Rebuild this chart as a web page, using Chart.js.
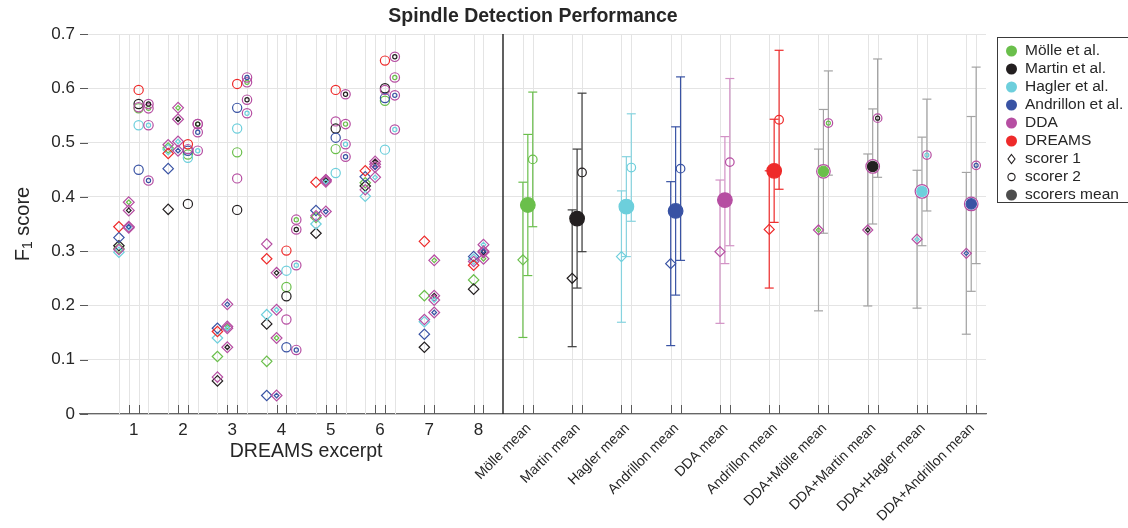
<!DOCTYPE html>
<html>
<head>
<meta charset="utf-8">
<script src="https://cdn.jsdelivr.net/npm/chart.js@4.4.0/dist/chart.umd.min.js"></script>
<style>
  html, body { margin: 0; padding: 0; background: #fff; }
</style>
</head>
<body>
<canvas id="chart" width="1128" height="528"></canvas>
<script>
// DREAMS excerpts 1..8 (scorer 2 only exists for excerpts 1..6)
const excerpts = ['1', '2', '3', '4', '5', '6', '7', '8'];

// scorer 1, single methods
const s1Molle     = [0.305, 0.490, 0.106, 0.097, 0.362, 0.426, 0.218, 0.247];
const s1Martin    = [0.310, 0.377, 0.061, 0.166, 0.333, 0.420, 0.123, 0.230];
const s1Hagler    = [0.298, 0.487, 0.140, 0.183, 0.350, 0.401, 0.170, 0.285];
const s1Andrillon = [0.325, 0.452, 0.158, 0.034, 0.375, 0.437, 0.147, 0.290];
const s1DDA       = [0.303, 0.496, 0.068, 0.313, 0.365, 0.413, 0.174, 0.281];
const s1Dreams    = [0.345, 0.480, 0.152, 0.286, 0.427, 0.448, 0.318, 0.274];

// scorer 2, single methods
const s2Molle     = [0.563, 0.478, 0.482, 0.234, 0.488, 0.577];
const s2Martin    = [0.571, 0.387, 0.376, 0.217, 0.526, 0.600];
const s2Hagler    = [0.532, 0.472, 0.526, 0.264, 0.444, 0.487];
const s2Andrillon = [0.450, 0.485, 0.564, 0.123, 0.509, 0.582];
const s2DDA       = [0.565, 0.488, 0.434, 0.174, 0.539, 0.597];
const s2Dreams    = [0.597, 0.497, 0.608, 0.301, 0.597, 0.651];

// scorer 1, DDA combined with a method
const s1DdaMolle     = [0.390, 0.564, 0.161, 0.140, 0.431, 0.460, 0.283, 0.286];
const s1DdaMartin    = [0.375, 0.543, 0.123, 0.260, 0.431, 0.465, 0.218, 0.298];
const s1DdaHagler    = [0.343, 0.502, 0.158, 0.192, 0.428, 0.436, 0.210, 0.312];
const s1DdaAndrillon = [0.345, 0.485, 0.202, 0.034, 0.373, 0.455, 0.187, 0.300];

// scorer 2, DDA combined with a method
const s2DdaMolle     = [0.563, 0.534, 0.611, 0.358, 0.534, 0.620];
const s2DdaMartin    = [0.571, 0.534, 0.579, 0.340, 0.589, 0.658];
const s2DdaHagler    = [0.532, 0.485, 0.554, 0.274, 0.497, 0.524];
const s2DdaAndrillon = [0.430, 0.519, 0.620, 0.118, 0.474, 0.587];

// means over excerpts (value and std)
const meanLabels = ['Mölle mean', 'Martin mean', 'Hagler mean', 'Andrillon mean', 'DDA mean',
  'Andrillon mean', 'DDA+Mölle mean', 'DDA+Martin mean', 'DDA+Hagler mean', 'DDA+Andrillon mean'];
const meanS1     = [0.284, 0.250, 0.290, 0.277, 0.299, 0.340, 0.339, 0.339, 0.322, 0.296];
const meanS1Sd   = [0.143, 0.126, 0.121, 0.151, 0.132, 0.108, 0.149, 0.140, 0.127, 0.149];
const meanBoth   = [0.385, 0.360, 0.382, 0.374, 0.394, 0.448, 0.447, 0.456, 0.410, 0.387];
const meanBothSd = [0.130, 0.128, 0.092, 0.155, 0.117, 0.095, 0.114, 0.106, 0.100, 0.161];
const meanS2     = [0.469, 0.445, 0.454, 0.452, 0.464, 0.542, 0.536, 0.545, 0.477, 0.458];
const meanS2Sd   = [0.124, 0.146, 0.099, 0.169, 0.154, 0.128, 0.096, 0.109, 0.103, 0.181];

const legendNames = ['Mölle et al.', 'Martin et al.', 'Hagler et al.', 'Andrillon et al.', 'DDA', 'DREAMS'];

const GREEN = '#6abf4b', BLACK = '#231f20', CYAN = '#6dcfdc', BLUE = '#3953a4', MAGENTA = '#b64ea2', RED = '#ee2a2a';
const FONT = '"Liberation Sans", Arial, Helvetica, sans-serif';
const TXT = '#262626';

const singles = [
  { s1: s1Molle, s2: s2Molle, color: GREEN },
  { s1: s1Martin, s2: s2Martin, color: BLACK },
  { s1: s1Hagler, s2: s2Hagler, color: CYAN },
  { s1: s1Andrillon, s2: s2Andrillon, color: BLUE },
  { s1: s1DDA, s2: s2DDA, color: MAGENTA },
  { s1: s1Dreams, s2: s2Dreams, color: RED }
];
const combos = [
  { s1: s1DdaMolle, s2: s2DdaMolle, color: GREEN },
  { s1: s1DdaMartin, s2: s2DdaMartin, color: BLACK },
  { s1: s1DdaHagler, s2: s2DdaHagler, color: CYAN },
  { s1: s1DdaAndrillon, s2: s2DdaAndrillon, color: BLUE }
];
const meanColors = [GREEN, BLACK, CYAN, BLUE, MAGENTA, RED, GREEN, BLACK, CYAN, BLUE];
const barColors = ['#6abf4b', '#3c3c3c', '#86d3df', '#3953a4', '#d291c5', '#ee2a2a',
  '#a3a3a3', '#a3a3a3', '#a3a3a3', '#a3a3a3'];

const datasets = [];
function addSet(points, style, color, radius, fill, errBars) {
  datasets.push({
    data: points,
    pointStyle: style,
    pointRadius: radius,
    pointHoverRadius: radius,
    pointBorderColor: color,
    pointBackgroundColor: fill || 'rgba(0,0,0,0)',
    pointBorderWidth: 1.2,
    showLine: false,
    errBars: errBars || null,
    errColor: null,
    order: -datasets.length
  });
  return datasets[datasets.length - 1];
}

// per-excerpt points
singles.forEach(m => {
  addSet(m.s1.map((v, i) => ({ x: i + 1 + (i < 6 ? -0.3 : -0.1), y: v })), 'rectRot', m.color, 5.2);
});
combos.forEach(m => {
  const pts = m.s1.map((v, i) => ({ x: i + 1 + (i < 6 ? -0.1 : 0.1), y: v }));
  addSet(pts, 'rectRot', MAGENTA, 5.4);
  addSet(pts, 'rectRot', m.color, 2.3);
});
singles.forEach(m => {
  addSet(m.s2.map((v, i) => ({ x: i + 1 + 0.1, y: v })), 'circle', m.color, 4.6);
});
combos.forEach(m => {
  const pts = m.s2.map((v, i) => ({ x: i + 1 + 0.3, y: v }));
  addSet(pts, 'circle', MAGENTA, 4.7);
  addSet(pts, 'circle', m.color, 2.1);
});

// mean section, one group per label
meanLabels.forEach((lab, g) => {
  const cx = 9 + g;
  const col = meanColors[g];
  const combo = g >= 6;
  const s1 = addSet([{ x: cx - 0.1, y: meanS1[g] }], 'rectRot', combo ? MAGENTA : col, 5, null,
    [{ lo: meanS1[g] - meanS1Sd[g], hi: meanS1[g] + meanS1Sd[g] }]);
  s1.errColor = barColors[g];
  if (combo) addSet([{ x: cx - 0.1, y: meanS1[g] }], 'rectRot', col, 2.2);
  const s2 = addSet([{ x: cx + 0.1, y: meanS2[g] }], 'circle', combo ? MAGENTA : col, 4.3, null,
    [{ lo: meanS2[g] - meanS2Sd[g], hi: meanS2[g] + meanS2Sd[g] }]);
  s2.errColor = barColors[g];
  if (combo) addSet([{ x: cx + 0.1, y: meanS2[g] }], 'circle', col, 2);
  const mb = addSet([{ x: cx, y: meanBoth[g] }], 'circle', combo ? MAGENTA : col, combo ? 6.8 : 7.3, combo ? '#ffffff' : col,
    [{ lo: meanBoth[g] - meanBothSd[g], hi: meanBoth[g] + meanBothSd[g] }]);
  mb.errColor = barColors[g];
  if (combo) addSet([{ x: cx, y: meanBoth[g] }], 'circle', col, 5.2, col);
});

function line(ctx, x1, y1, x2, y2) {
  ctx.beginPath(); ctx.moveTo(x1, y1); ctx.lineTo(x2, y2); ctx.stroke();
}

const decor = {
  id: 'decor',
  beforeDatasetsDraw(chart) {
    const { ctx, chartArea: a, scales: { x, y } } = chart;
    ctx.save();
    // vertical grid lines
    ctx.strokeStyle = '#e4e4e4';
    ctx.lineWidth = 1;
    for (let g = 1; g <= 18; g++) {
      const offs = g <= 6 ? [-0.3, -0.1, 0.1, 0.3] : [-0.1, 0.1];
      offs.forEach(o => {
        const px = Math.round(x.getPixelForValue(g + o)) + 0.5;
        line(ctx, px, a.top, px, a.bottom);
      });
    }
    // inward tick marks
    ctx.strokeStyle = '#5a5a5a';
    for (let g = 1; g <= 18; g++) {
      [-0.1, 0.1].forEach(o => {
        const px = Math.round(x.getPixelForValue(g + o)) + 0.5;
        line(ctx, px, a.bottom, px, a.bottom - 9);
      });
    }
    y.ticks.forEach(t => {
      const py = Math.round(y.getPixelForValue(t.value)) + 0.5;
      line(ctx, a.left, py, a.left + 8, py);
    });
    // separator between excerpts and means
    ctx.strokeStyle = '#2b2b2b';
    ctx.lineWidth = 1.5;
    const sx = Math.round(x.getPixelForValue(8.5));
    line(ctx, sx, a.top, sx, a.bottom);
    // error bars
    ctx.lineWidth = 1.2;
    chart.data.datasets.forEach((d, i) => {
      if (!d.errBars) return;
      const meta = chart.getDatasetMeta(i);
      d.errBars.forEach((e, j) => {
        const px = meta.data[j].x;
        const yl = y.getPixelForValue(e.lo), yh = y.getPixelForValue(e.hi);
        ctx.strokeStyle = d.errColor;
        line(ctx, px, yl, px, yh);
        line(ctx, px - 4.5, yl, px + 4.5, yl);
        line(ctx, px - 4.5, yh, px + 4.5, yh);
      });
    });
    ctx.restore();
  },
  afterDraw(chart) {
    const { ctx, chartArea: a, scales: { x } } = chart;
    ctx.save();
    ctx.fillStyle = TXT;
    // title
    ctx.font = 'bold 19.5px ' + FONT;
    ctx.textAlign = 'center';
    ctx.textBaseline = 'middle';
    ctx.fillText('Spindle Detection Performance', (a.left + a.right) / 2, 17);
    // x title under the excerpts
    ctx.font = '19.5px ' + FONT;
    ctx.fillText('DREAMS excerpt', x.getPixelForValue(4.5), 452);
    // rotated mean labels
    ctx.font = '14px ' + FONT;
    ctx.textAlign = 'right';
    meanLabels.forEach((lab, g) => {
      ctx.save();
      ctx.translate(x.getPixelForValue(9 + g) + 1, a.bottom + 12);
      ctx.rotate(-Math.PI / 4);
      ctx.fillText(lab, 0, 0);
      ctx.restore();
    });
    // y title with subscript
    ctx.save();
    ctx.translate(23, (a.top + a.bottom) / 2);
    ctx.rotate(-Math.PI / 2);
    ctx.textAlign = 'left';
    ctx.textBaseline = 'middle';
    ctx.font = '20px ' + FONT;
    const wF = ctx.measureText('F').width;
    ctx.font = '14px ' + FONT;
    const w1 = ctx.measureText('1').width;
    ctx.font = '20px ' + FONT;
    const wS = ctx.measureText(' score').width;
    const tx = -(wF + w1 + wS) / 2;
    ctx.fillText('F', tx, 0);
    ctx.font = '14px ' + FONT;
    ctx.fillText('1', tx + wF, 5);
    ctx.font = '20px ' + FONT;
    ctx.fillText(' score', tx + wF + w1, 0);
    ctx.restore();
    // legend
    ctx.strokeStyle = '#3a3a3a';
    ctx.lineWidth = 1;
    ctx.strokeRect(997.5, 37.5, 150, 165);
    ctx.font = '15.5px ' + FONT;
    ctx.textAlign = 'left';
    ctx.textBaseline = 'middle';
    const lx = 1011.5;
    legendNames.forEach((name, i) => {
      const ly = 51 + i * 18;
      ctx.fillStyle = meanColors[i];
      ctx.beginPath(); ctx.arc(lx, ly, 5.5, 0, Math.PI * 2); ctx.fill();
      ctx.fillStyle = TXT;
      ctx.fillText(name, 1025, ly);
    });
    let ly = 51 + 6 * 18;
    ctx.strokeStyle = BLACK;
    ctx.lineWidth = 1.1;
    ctx.beginPath();
    ctx.moveTo(lx, ly - 4.5); ctx.lineTo(lx + 3.5, ly); ctx.lineTo(lx, ly + 4.5); ctx.lineTo(lx - 3.5, ly);
    ctx.closePath(); ctx.stroke();
    ctx.fillText('scorer 1', 1025, ly);
    ly += 18;
    ctx.beginPath(); ctx.arc(lx, ly, 3.6, 0, Math.PI * 2); ctx.stroke();
    ctx.fillText('scorer 2', 1025, ly);
    ly += 18;
    ctx.fillStyle = '#4d4d4d';
    ctx.beginPath(); ctx.arc(lx, ly, 5.5, 0, Math.PI * 2); ctx.fill();
    ctx.fillStyle = TXT;
    ctx.fillText('scorers mean', 1025, ly);
    ctx.restore();
  }
};

new Chart(document.getElementById('chart'), {
  type: 'scatter',
  data: { datasets: datasets },
  options: {
    responsive: false,
    animation: false,
    events: [],
    layout: { padding: { left: 20, right: 142, top: 34, bottom: 84 } },
    plugins: { legend: { display: false }, tooltip: { enabled: false } },
    scales: {
      x: {
        type: 'linear',
        min: -0.09,
        max: 18.3,
        afterBuildTicks: s => { s.ticks = excerpts.map((e, i) => ({ value: i + 1 })); },
        afterFit: s => { s.height = 30; },
        grid: { display: false, drawTicks: false },
        border: { display: true, color: '#666666', width: 1.3 },
        ticks: {
          callback: (v, i) => excerpts[i],
          autoSkip: false, maxRotation: 0, minRotation: 0,
          padding: 6, color: TXT, font: { family: FONT, size: 17 }
        }
      },
      y: {
        min: 0,
        max: 0.7,
        afterFit: s => { s.width = 60; },
        grid: { color: '#e4e4e4', drawTicks: false },
        border: { display: false },
        ticks: {
          stepSize: 0.1,
          callback: v => (v === 0 ? '0' : v.toFixed(1)),
          padding: 5, color: TXT, font: { family: FONT, size: 17 }
        }
      }
    }
  },
  plugins: [decor]
});
</script>
</body>
</html>
